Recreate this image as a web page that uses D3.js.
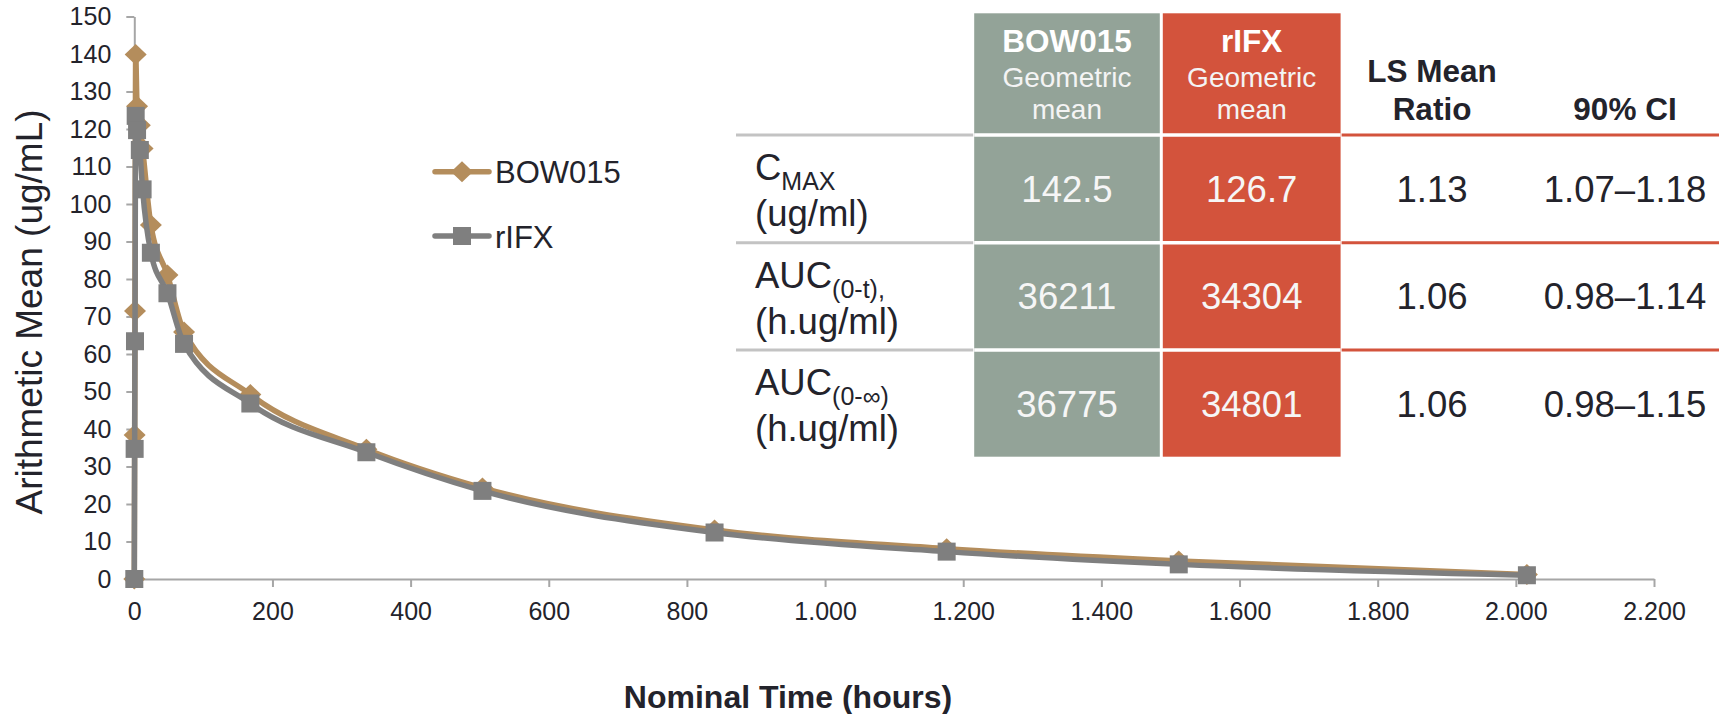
<!DOCTYPE html>
<html>
<head>
<meta charset="utf-8">
<script src="https://cdn.jsdelivr.net/npm/d3@7"></script>
<style>
  body { margin: 0; background: #fff; }
  svg text { font-family: Arial, "Liberation Sans", sans-serif; fill: #23232b; }
</style>
</head>
<body>
<div id="chart"></div>
<script>
// sampling times (hours) and arithmetic means (ug/mL)
const times  = [0, 0.5, 1, 2, 4, 8, 12, 24, 48, 72, 168, 336, 504, 840, 1176, 1512, 2016];
const bow015 = [0, 38.4, 71.5, 139.9, 126.1, 121, 114.8, 94.4, 81.1, 65.9, 49.2, 34.6, 24.3, 13.1, 8.1, 4.8, 1.2];
const rifx   = [0, 34.7, 63.4, 123.5, 119.7, 114.4, 103.9, 87.0, 76.2, 62.7, 46.8, 33.8, 23.5, 12.4, 7.3, 3.9, 1.0];

const xTickValues = [0, 200, 400, 600, 800, 1000, 1200, 1400, 1600, 1800, 2000, 2200];
const yTickValues = [0, 10, 20, 30, 40, 50, 60, 70, 80, 90, 100, 110, 120, 130, 140, 150];

// PK summary table
const rowMain  = ['C', 'AUC', 'AUC'];
const rowSub   = ['MAX', '(0-t),', '(0-\u221E)'];
const rowUnit  = ['(ug/ml)', '(h.ug/ml)', '(h.ug/ml)'];
const bowGeo   = ['142.5', '36211', '36775'];
const rifxGeo  = ['126.7', '34304', '34801'];
const lsRatio  = ['1.13', '1.06', '1.06'];
const ci90     = ['1.07\u20131.18', '0.98\u20131.14', '0.98\u20131.15'];

const width = 1719, height = 714;
const tan = '#b48d5c', grey = '#7f7f7f';
const greenCol = '#93a398', redCol = '#d3533c';

const svg = d3.select('#chart')
  .append('svg')
  .attr('width', width)
  .attr('height', height);

let x = d3.scaleLinear().domain([0, 2200]).range([134.3, 1654]);
let y = d3.scaleLinear().domain([0, 150]).range([579, 16.5]);

const euro = d3.formatLocale({decimal: ',', thousands: '.', grouping: [3], currency: ['', '']});

const xAxisGroup = svg.append('g')
  .attr('transform', 'translate(0,' + y(0) + ')')
  .call(d3.axisBottom(x).tickValues(xTickValues).tickSize(8).tickSizeOuter(0)
    .tickPadding(15).tickFormat(euro.format(',')));

const yAxisGroup = svg.append('g')
  .attr('transform', 'translate(' + x(0) + ',0)')
  .call(d3.axisLeft(y).tickValues(yTickValues).tickSize(8).tickSizeOuter(0).tickPadding(15));

[xAxisGroup, yAxisGroup].forEach(g => {
  g.attr('font-size', 25).attr('font-family', null);
  g.select('.domain').attr('stroke', '#a6a6a6').attr('stroke-width', 2);
  g.selectAll('.tick line').attr('stroke', '#a6a6a6').attr('stroke-width', 2);
  g.selectAll('.tick text').attr('fill', '#23232b');
});

svg.append('text')
  .attr('transform', 'translate(42,312) rotate(-90)')
  .attr('text-anchor', 'middle')
  .attr('font-size', 37)
  .text('Arithmetic Mean (ug/mL)');

svg.append('text')
  .attr('x', 788)
  .attr('y', 708)
  .attr('text-anchor', 'middle')
  .attr('font-size', 32)
  .attr('font-weight', 'bold')
  .text('Nominal Time (hours)');

// series
const line = d3.line()
  .x(d => x(d.t))
  .y(d => y(d.v))
  .curve(d3.curveMonotoneX);

const diamond = 'M0,-10.5L11,0L0,10.5L-11,0Z';

const bowData = times.map((t, i) => ({t: t, v: bow015[i]}));
const rifxData = times.map((t, i) => ({t: t, v: rifx[i]}));

svg.append('path')
  .datum(bowData)
  .attr('d', line)
  .attr('fill', 'none')
  .attr('stroke', tan)
  .attr('stroke-width', 5.5)
  .attr('stroke-linejoin', 'round');

svg.append('g').selectAll('path')
  .data(bowData)
  .enter()
  .append('path')
    .attr('d', diamond)
    .attr('transform', d => 'translate(' + x(d.t) + ',' + y(d.v) + ')')
    .attr('fill', tan);

svg.append('path')
  .datum(rifxData)
  .attr('d', line)
  .attr('fill', 'none')
  .attr('stroke', grey)
  .attr('stroke-width', 5.5)
  .attr('stroke-linejoin', 'round');

svg.append('g').selectAll('rect')
  .data(rifxData)
  .enter()
  .append('rect')
    .attr('x', d => x(d.t) - 9)
    .attr('y', d => y(d.v) - 9)
    .attr('width', 18)
    .attr('height', 18)
    .attr('fill', grey);

// legend
const legend = [
  {name: 'BOW015', color: tan, cy: 171.7, marker: 'diamond'},
  {name: 'rIFX', color: grey, cy: 236, marker: 'square'}
];
const lg = svg.append('g').selectAll('g').data(legend).enter().append('g')
  .attr('transform', d => 'translate(0,' + d.cy + ')');
lg.append('line')
  .attr('x1', 435).attr('x2', 489)
  .attr('stroke', d => d.color)
  .attr('stroke-width', 5.5)
  .attr('stroke-linecap', 'round');
lg.filter(d => d.marker === 'diamond').append('path')
  .attr('d', diamond)
  .attr('transform', 'translate(462,0)')
  .attr('fill', tan);
lg.filter(d => d.marker === 'square').append('rect')
  .attr('x', 453).attr('y', -9).attr('width', 18).attr('height', 18)
  .attr('fill', grey);
lg.append('text')
  .attr('x', 495)
  .attr('y', 11.5)
  .attr('font-size', 31)
  .text(d => d.name);

// table
const rowTop = [135, 242.7, 350];
const tableBottom = 456.7, tableTop = 13.3;
const colGreen = {x0: 974.2, x1: 1159.8};
const colRed = {x0: 1162.8, x1: 1340.6};
const ratioX = 1432, ciX = 1625, labelX = 755;
const bodySize = 36.5, headSize = 31.5;

const tg = svg.append('g');
[[colGreen, greenCol], [colRed, redCol]].forEach(([c, fill]) => {
  tg.append('rect')
    .attr('x', c.x0).attr('y', tableTop)
    .attr('width', c.x1 - c.x0).attr('height', tableBottom - tableTop)
    .attr('fill', fill);
});

rowTop.forEach(ry => {
  tg.append('line').attr('x1', 736).attr('x2', colGreen.x0 - 1)
    .attr('y1', ry).attr('y2', ry).attr('stroke', '#c3c3c3').attr('stroke-width', 3);
  tg.append('line').attr('x1', colGreen.x0).attr('x2', colRed.x1)
    .attr('y1', ry).attr('y2', ry).attr('stroke', '#fff').attr('stroke-width', 3.5);
  tg.append('line').attr('x1', colRed.x1 + 1).attr('x2', width)
    .attr('y1', ry).attr('y2', ry).attr('stroke', redCol).attr('stroke-width', 3);
});

// headers
const headers = [
  {name: 'BOW015', cx: (colGreen.x0 + colGreen.x1) / 2},
  {name: 'rIFX', cx: (colRed.x0 + colRed.x1) / 2}
];
headers.forEach(h => {
  tg.append('text').attr('x', h.cx).attr('y', 51.7).attr('text-anchor', 'middle')
    .attr('font-size', headSize).attr('font-weight', 'bold').style('fill', '#fff').text(h.name);
  tg.append('text').attr('x', h.cx).attr('y', 86.7).attr('text-anchor', 'middle')
    .attr('font-size', 28).style('fill', '#f4f4f4').text('Geometric');
  tg.append('text').attr('x', h.cx).attr('y', 119.3).attr('text-anchor', 'middle')
    .attr('font-size', 28).style('fill', '#f4f4f4').text('mean');
});
tg.append('text').attr('x', ratioX).attr('y', 81.7).attr('text-anchor', 'middle')
  .attr('font-size', headSize).attr('font-weight', 'bold').text('LS Mean');
tg.append('text').attr('x', ratioX).attr('y', 120).attr('text-anchor', 'middle')
  .attr('font-size', headSize).attr('font-weight', 'bold').text('Ratio');
tg.append('text').attr('x', ciX).attr('y', 120).attr('text-anchor', 'middle')
  .attr('font-size', headSize).attr('font-weight', 'bold').text('90% CI');

// rows
rowTop.forEach((ry, i) => {
  const t1 = tg.append('text').attr('x', labelX).attr('y', ry + 45).attr('font-size', bodySize);
  t1.append('tspan').text(rowMain[i]);
  t1.append('tspan').attr('font-size', 25).attr('dy', 10).text(rowSub[i]);
  tg.append('text').attr('x', labelX).attr('y', ry + 91).attr('font-size', bodySize).text(rowUnit[i]);

  tg.append('text').attr('x', headers[0].cx).attr('y', ry + 66.7).attr('text-anchor', 'middle')
    .attr('font-size', bodySize).style('fill', '#f6f6f6').text(bowGeo[i]);
  tg.append('text').attr('x', headers[1].cx).attr('y', ry + 66.7).attr('text-anchor', 'middle')
    .attr('font-size', bodySize).style('fill', '#f6f6f6').text(rifxGeo[i]);
  tg.append('text').attr('x', ratioX).attr('y', ry + 66.7).attr('text-anchor', 'middle')
    .attr('font-size', bodySize).text(lsRatio[i]);
  tg.append('text').attr('x', ciX).attr('y', ry + 66.7).attr('text-anchor', 'middle')
    .attr('font-size', bodySize).text(ci90[i]);
});
</script>
</body>
</html>
